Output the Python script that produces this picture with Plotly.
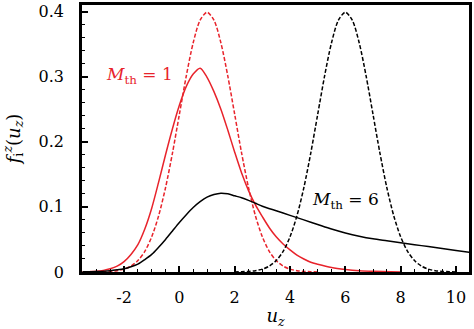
import plotly.graph_objects as go

# ---- data ----
red_dash_x = [-3, -2.75, -2.5, -2.25, -2, -1.75, -1.5, -1.25, -1, -0.75, -0.5, -0.25, 0, 0.25,
              0.5, 0.75, 1, 1.25, 1.5, 1.75, 2, 2.25, 2.5, 2.75, 3, 3.25, 3.5, 3.75, 4, 4.25,
              4.5, 4.75, 5]
red_dash_y = [0.0001, 0.0004, 0.0009, 0.0020, 0.0044, 0.0091, 0.0175, 0.0317, 0.0540, 0.0863,
              0.1295, 0.1826, 0.2420, 0.3011, 0.3521, 0.3867, 0.3989, 0.3867, 0.3521, 0.3011,
              0.2420, 0.1826, 0.1295, 0.0863, 0.0540, 0.0317, 0.0175, 0.0091, 0.0044, 0.0020,
              0.0009, 0.0004, 0.0001]

black_dash_x = [2, 2.25, 2.5, 2.75, 3, 3.25, 3.5, 3.75, 4, 4.25, 4.5, 4.75, 5, 5.25, 5.5, 5.75,
                6, 6.25, 6.5, 6.75, 7, 7.25, 7.5, 7.75, 8, 8.25, 8.5, 8.75, 9, 9.25, 9.5, 9.75, 10]
black_dash_y = [0.0001, 0.0004, 0.0009, 0.0020, 0.0044, 0.0091, 0.0175, 0.0317, 0.0540, 0.0863,
                0.1295, 0.1826, 0.2420, 0.3011, 0.3521, 0.3867, 0.3989, 0.3867, 0.3521, 0.3011,
                0.2420, 0.1826, 0.1295, 0.0863, 0.0540, 0.0317, 0.0175, 0.0091, 0.0044, 0.0020,
                0.0009, 0.0004, 0.0001]

red_solid_x = [-3.5, -3.25, -3, -2.75, -2.5, -2.25, -2, -1.75, -1.5, -1.25, -1, -0.75, -0.5,
               -0.25, 0, 0.25, 0.5, 0.75, 1, 1.25, 1.5, 1.75, 2, 2.25, 2.5, 2.75, 3, 3.25,
               3.5, 3.75, 4, 4.25, 4.5, 4.75, 5, 5.5, 6, 6.5, 7, 8]
red_solid_y = [0.0002, 0.0005, 0.001, 0.0025, 0.005, 0.009, 0.016, 0.027, 0.042, 0.066, 0.098,
               0.138, 0.180, 0.220, 0.256, 0.285, 0.304, 0.313, 0.299, 0.277, 0.250, 0.218,
               0.184, 0.152, 0.125, 0.103, 0.085, 0.068, 0.054, 0.043, 0.034, 0.026, 0.020,
               0.015, 0.012, 0.007, 0.004, 0.002, 0.001, 0.0]

black_solid_x = [-3.5, -3, -2.5, -2.25, -2, -1.75, -1.5, -1.25, -1, -0.75, -0.5, -0.25, 0,
                 0.25, 0.5, 0.75, 1, 1.25, 1.5, 1.75, 2, 2.25, 2.5, 2.75, 3, 3.5, 4, 4.5, 5,
                 5.5, 6, 6.5, 7, 7.5, 8, 8.5, 9, 9.5, 10, 10.5]
black_solid_y = [0.0002, 0.0007, 0.002, 0.0033, 0.005, 0.008, 0.012, 0.019, 0.027, 0.038,
                 0.050, 0.063, 0.076, 0.088, 0.099, 0.108, 0.115, 0.119, 0.121, 0.120, 0.117,
                 0.114, 0.110, 0.1055, 0.101, 0.094, 0.087, 0.080, 0.073, 0.066, 0.060, 0.055,
                 0.051, 0.048, 0.045, 0.042, 0.039, 0.036, 0.033, 0.030]

x_ticks = [-2, 0, 2, 4, 6, 8, 10]
x_ticktext = ["-2", "0", "2", "4", "6", "8", "10"]
y_ticks = [0, 0.1, 0.2, 0.3, 0.4]
y_ticktext = ["0", "0.1", "0.2", "0.3", "0.4"]

RED = "#e8232b"
FONT = "DejaVu Serif"

fig = go.Figure()
fig.add_trace(go.Scatter(x=red_solid_x, y=red_solid_y, mode="lines",
                         line=dict(color=RED, width=1.5, shape="spline", smoothing=0.8)))
fig.add_trace(go.Scatter(x=red_dash_x, y=red_dash_y, mode="lines",
                         line=dict(color=RED, width=1.5, dash="4px,2px", shape="spline", smoothing=0.8)))
fig.add_trace(go.Scatter(x=black_solid_x, y=black_solid_y, mode="lines",
                         line=dict(color="black", width=1.5, shape="spline", smoothing=0.8)))
fig.add_trace(go.Scatter(x=black_dash_x, y=black_dash_y, mode="lines",
                         line=dict(color="black", width=1.5, dash="4px,2px", shape="spline", smoothing=0.8)))

fig.add_annotation(x=-1.44, y=0.301, text="<i>M</i><sub>th</sub> = 1", showarrow=False,
                   font=dict(family=FONT, size=17, color=RED), xanchor="center", yanchor="middle")
fig.add_annotation(x=6.0, y=0.110, text="<i>M</i><sub>th</sub> = 6", showarrow=False,
                   font=dict(family=FONT, size=17, color="black"), xanchor="center", yanchor="middle")

fig.update_layout(
    width=474, height=329,
    margin=dict(l=82, r=3, t=2, b=52),
    paper_bgcolor="white", plot_bgcolor="white",
    showlegend=False,
    font=dict(family=FONT, size=16, color="black"),
    xaxis=dict(range=[-3.52, 10.47], tickvals=x_ticks, ticktext=x_ticktext,
               ticks="inside", ticklen=6, tickwidth=1.5, tickcolor="black",
               showline=True, linewidth=2.5, linecolor="black", mirror=True,
               showgrid=False, zeroline=False, ticklabelstandoff=9,
               tickfont=dict(family=FONT, size=16),
               minor=dict(dtick=0.5, tick0=0, ticks="inside", ticklen=3.5, tickwidth=1.2,
                          tickcolor="black", showgrid=False),
               title=dict(text="<i>u</i><sub><i>z</i></sub>", font=dict(family=FONT, size=18),
                          standoff=7)),
    yaxis=dict(range=[0, 0.41], tickvals=y_ticks, ticktext=y_ticktext,
               ticks="inside", ticklen=6, tickwidth=1.5, tickcolor="black",
               showline=True, linewidth=2.5, linecolor="black", mirror=True,
               showgrid=False, zeroline=False, ticklabelstandoff=12,
               tickfont=dict(family=FONT, size=16),
               minor=dict(dtick=0.02, tick0=0, ticks="inside", ticklen=3.5, tickwidth=1.2,
                          tickcolor="black", showgrid=False),
               title=dict(text="<i>f</i><sub>i</sub><sup><i>z</i></sup>(<i>u</i><sub><i>z</i></sub>)",
                          font=dict(family=FONT, size=18), standoff=16)),
)

fig.write_html("out.html")
